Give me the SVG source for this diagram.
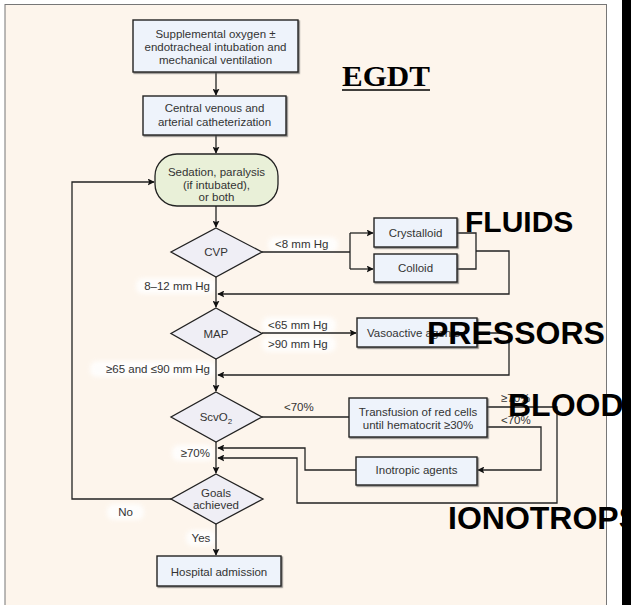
<svg xmlns="http://www.w3.org/2000/svg" width="631" height="605" viewBox="0 0 631 605">
<defs>
<marker id="ah" viewBox="0 0 10 10" refX="9" refY="5" markerWidth="7" markerHeight="7" markerUnits="userSpaceOnUse" orient="auto">
<path d="M0,0 L10,5 L0,10 L2,5 Z" fill="#111"/>
</marker>
<filter id="glow" x="-20%" y="-50%" width="140%" height="200%"><feGaussianBlur stdDeviation="2"/></filter>
<filter id="sh" x="-10%" y="-10%" width="130%" height="130%"><feDropShadow dx="1.2" dy="1.2" stdDeviation="0.6" flood-color="#555" flood-opacity="0.7"/></filter>
</defs>
<style>
.box{fill:#eef3fb;stroke:#222;stroke-width:1.4;filter:url(#sh)}
.dia{fill:#efeef5;stroke:#222;stroke-width:1.3}
.sed{fill:#e9f0d8;stroke:#222;stroke-width:1.3}
.t{font-family:"Liberation Sans",Arial,sans-serif;font-size:11.5px;fill:#333;text-anchor:middle}
.l{font-family:"Liberation Sans",Arial,sans-serif;font-size:11.5px;fill:#333}
.big{font-family:"Liberation Sans",Arial,sans-serif;font-weight:bold;fill:#000}
.c{fill:none;stroke:#222;stroke-width:1.3}
.g{fill:#fff;opacity:0.85;filter:url(#glow)}
</style>
<rect x="0" y="0" width="631" height="605" fill="#fff"/>
<rect x="5" y="4.5" width="601.5" height="610" fill="#fdf5ec" stroke="#777" stroke-width="1"/>

<g id="label-glows">
<rect class="g" x="136" y="278" width="80" height="16" rx="7"/>
<rect class="g" x="268" y="237" width="70" height="15" rx="7"/>
<rect class="g" x="262" y="317" width="74" height="16" rx="7"/>
<rect class="g" x="262" y="336" width="74" height="16" rx="7"/>
<rect class="g" x="90" y="361" width="126" height="16" rx="7"/>
<rect class="g" x="172" y="445" width="42" height="16" rx="7"/>
<rect class="g" x="107" y="504" width="37" height="16" rx="7"/>
<rect class="g" x="186" y="530" width="30" height="16" rx="7"/>
</g>

<g id="connectors">
<path class="c" d="M216,72 V95" marker-end="url(#ah)"/>
<path class="c" d="M216,135 V153" marker-end="url(#ah)"/>
<path class="c" d="M216,206 V227" marker-end="url(#ah)"/>
<path class="c" d="M262,252 H350"/>
<path class="c" d="M350,233 V269"/>
<path class="c" d="M350,233 H373" marker-end="url(#ah)"/>
<path class="c" d="M350,269 H373" marker-end="url(#ah)"/>
<path class="c" d="M457,233 H476 V269 H457"/>
<path class="c" d="M476,251 H509 V294 H218" marker-end="url(#ah)"/>
<path class="c" d="M216,277 V307" marker-end="url(#ah)"/>
<path class="c" d="M262,333 H356" marker-end="url(#ah)"/>
<path class="c" d="M477,333 H509 V375 H218" marker-end="url(#ah)"/>
<path class="c" d="M216,359 V391" marker-end="url(#ah)"/>
<path class="c" d="M262,417 H349"/>
<path class="c" d="M487,407 H557 V503 H297 V458 H218" marker-end="url(#ah)"/>
<path class="c" d="M487,427 H541 V470 H478" marker-end="url(#ah)"/>
<path class="c" d="M356,470 H305 V448 H218" marker-end="url(#ah)"/>
<path class="c" d="M216,442 V473" marker-end="url(#ah)"/>
<path class="c" d="M216,524 V555" marker-end="url(#ah)"/>
<path class="c" d="M171,499 H72 V182 H154" marker-end="url(#ah)"/>
</g>

<g id="n-oxygen">
<rect class="box" x="133" y="20" width="165" height="52"/>
<text class="t" x="215.5" y="38">Supplemental oxygen ±</text>
<text class="t" x="215.5" y="51">endotracheal intubation and</text>
<text class="t" x="215.5" y="64">mechanical ventilation</text>
</g>
<g id="n-catheter">
<rect class="box" x="143" y="96" width="143" height="39"/>
<text class="t" x="214.5" y="112">Central venous and</text>
<text class="t" x="214.5" y="126">arterial catheterization</text>
</g>
<g id="n-sedation">
<rect class="sed" x="155" y="154" width="123" height="52" rx="22" ry="22"/>
<text class="t" x="216.5" y="176">Sedation, paralysis</text>
<text class="t" x="216.5" y="188.5">(if intubated),</text>
<text class="t" x="216.5" y="201">or both</text>
</g>
<g id="n-cvp">
<polygon class="dia" points="216,228 262,252 216,277 171,252"/>
<text class="t" x="216" y="256">CVP</text>
</g>
<g id="n-crystalloid">
<rect class="box" x="374" y="218" width="83" height="29"/>
<text class="t" x="415.5" y="237">Crystalloid</text>
</g>
<g id="n-colloid">
<rect class="box" x="374" y="254" width="83" height="28"/>
<text class="t" x="415.5" y="272">Colloid</text>
</g>
<g id="n-map">
<polygon class="dia" points="216,308 262,333.5 216,359 171,333.5"/>
<text class="t" x="216" y="338">MAP</text>
</g>
<g id="n-vasoactive">
<rect class="box" x="357" y="318" width="120" height="29"/>
<text class="l" x="367" y="337">Vasoactive agents</text>
</g>
<g id="n-scvo2">
<polygon class="dia" points="216,392 262,417 216,442 171,417"/>
<text class="t" x="216" y="421">ScvO<tspan font-size="8" dy="3">2</tspan></text>
</g>
<g id="n-transfusion">
<rect class="box" x="349" y="398" width="138" height="39"/>
<text class="t" x="418" y="416">Transfusion of red cells</text>
<text class="t" x="418" y="429">until hematocrit ≥30%</text>
</g>
<g id="n-inotropic">
<rect class="box" x="356" y="457" width="121" height="28"/>
<text class="t" x="416.5" y="474">Inotropic agents</text>
</g>
<g id="n-goals">
<polygon class="dia" points="216,474 263,499 216,524 171,499"/>
<text class="t" x="216" y="497">Goals</text>
<text class="t" x="216" y="509">achieved</text>
</g>
<g id="n-hospital">
<rect class="box" x="157" y="556" width="124" height="30"/>
<text class="t" x="219" y="576">Hospital admission</text>
</g>

<g id="labels">
<text class="l" x="275" y="248">&lt;8 mm Hg</text>
<text class="l" x="210" y="290" text-anchor="end">8–12 mm Hg</text>
<text class="l" x="268" y="329">&lt;65 mm Hg</text>
<text class="l" x="268" y="348">&gt;90 mm Hg</text>
<text class="l" x="210" y="373" text-anchor="end">≥65 and ≤90 mm Hg</text>
<text class="l" x="284" y="411">&lt;70%</text>
<text class="l" x="501" y="402">≥70%</text>
<text class="l" x="501" y="424">&lt;70%</text>
<text class="l" x="210" y="457" text-anchor="end">≥70%</text>
<text class="l" x="125.5" y="516" text-anchor="middle">No</text>
<text class="l" x="201" y="542" text-anchor="middle">Yes</text>
</g>

<g id="titles">
<text x="342" y="86" font-family="'Liberation Serif','Times New Roman',serif" font-weight="bold" font-size="29" textLength="88" lengthAdjust="spacingAndGlyphs" fill="#000">EGDT</text>
<line x1="342" y1="90" x2="430" y2="90" stroke="#000" stroke-width="1.5"/>
<text class="big" x="465" y="232" font-size="30">FLUIDS</text>
<text class="big" x="427" y="344" font-size="32">PRESSORS</text>
<text class="big" x="508" y="416" font-size="32">BLOOD</text>
<text class="big" x="448" y="529" font-size="32">IONOTROPS</text>
</g>
<rect x="622" y="0" width="9" height="605" fill="#000"/>
</svg>
